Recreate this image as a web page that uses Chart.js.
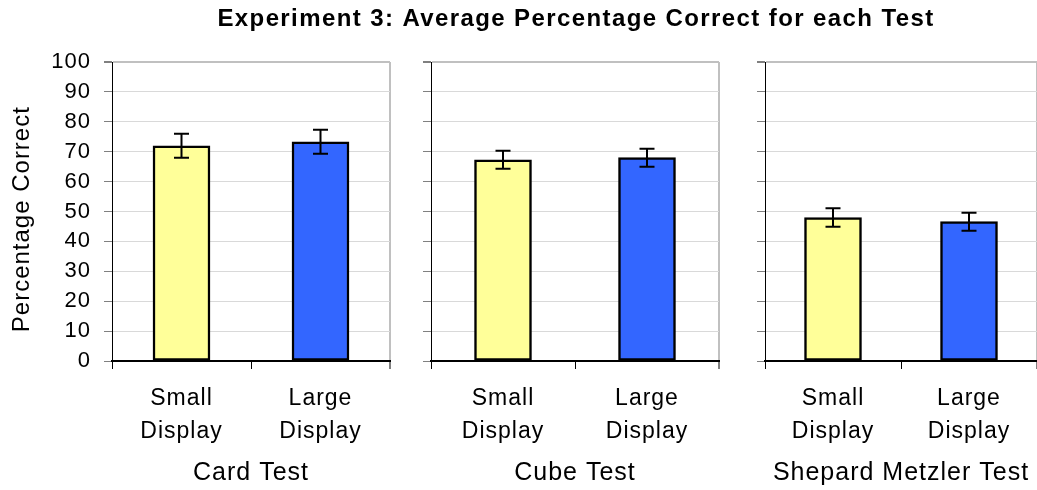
<!DOCTYPE html>
<html>
<head>
<meta charset="utf-8">
<script src="https://cdn.jsdelivr.net/npm/chart.js@4.4.1/dist/chart.umd.min.js"></script>
<style>
  html, body { margin: 0; padding: 0; background: #ffffff; }
  #wrap { position: relative; width: 1037px; height: 490px; overflow: hidden; }
  #wrap canvas { position: absolute; left: 0; top: 0; }
</style>
</head>
<body>
<div id="wrap">
  <canvas id="c0" width="1037" height="490"></canvas>
  <canvas id="c1" width="1037" height="490"></canvas>
  <canvas id="c2" width="1037" height="490"></canvas>
</div>
<script>
// ---- data ----
const chartTitle = 'Experiment 3: Average Percentage Correct for each Test';
const yAxisTitle = 'Percentage Correct';
const tests = ['Card Test', 'Cube Test', 'Shepard Metzler Test'];
const displays = [['Small', 'Display'], ['Large', 'Display']];
const smallMeans = [72, 67.3, 48];
const largeMeans = [73.3, 68, 46.6];
const smallErrors = [4, 3, 3.1];
const largeErrors = [4, 3, 3];
const yTicks = [0, 10, 20, 30, 40, 50, 60, 70, 80, 90, 100];

// ---- style ----
const FONT = "'Liberation Sans', Arial, sans-serif";
const barColors = ['#FFFF99', '#3366FF'];
const panels = [
  { left: 112, right: 390 },
  { left: 431, right: 719 },
  { left: 765, right: 1045 }
];
const TOP = 62, BOTTOM = 361, W = 1037, H = 490;

const spacingPlugin = {
  id: 'letterSpacing',
  beforeUpdate(chart) { chart.ctx.letterSpacing = '1px'; },
  beforeDraw(chart) { chart.ctx.letterSpacing = '1px'; }
};

const errorBarPlugin = {
  id: 'errorBars',
  afterDatasetsDraw(chart) {
    const ctx = chart.ctx;
    const y = chart.scales.y;
    chart.data.datasets.forEach((ds, di) => {
      const meta = chart.getDatasetMeta(di);
      meta.data.forEach((bar, i) => {
        const v = ds.data[i], e = ds.errors[i];
        const yTop = y.getPixelForValue(v + e);
        const yBot = y.getPixelForValue(v - e);
        ctx.save();
        ctx.strokeStyle = '#000';
        ctx.lineWidth = 2;
        ctx.beginPath();
        ctx.moveTo(bar.x, yTop); ctx.lineTo(bar.x, yBot);
        ctx.moveTo(bar.x - 7.5, yTop); ctx.lineTo(bar.x + 7.5, yTop);
        ctx.moveTo(bar.x - 7.5, yBot); ctx.lineTo(bar.x + 7.5, yBot);
        ctx.stroke();
        ctx.restore();
      });
    });
  }
};

const titlePlugin = {
  id: 'figTitle',
  afterDraw(chart, args, opts) {
    if (!opts.text) return;
    const ctx = chart.ctx;
    ctx.save();
    ctx.font = 'bold 24px ' + FONT;
    ctx.letterSpacing = '1.4px';
    ctx.fillStyle = '#000';
    ctx.textAlign = 'center';
    ctx.textBaseline = 'middle';
    ctx.fillText(opts.text, 576, 19);
    ctx.restore();
  }
};

function makePanel(idx) {
  const p = panels[idx];
  const yAxisWidth = idx === 0 ? p.left : 20;
  const padLeft = p.left - yAxisWidth;
  const padRight = W - p.right;
  new Chart(document.getElementById('c' + idx), {
    type: 'bar',
    data: {
      labels: displays,
      datasets: [{
        data: [smallMeans[idx], largeMeans[idx]],
        errors: [smallErrors[idx], largeErrors[idx]],
        backgroundColor: barColors,
        borderColor: '#000',
        borderWidth: 2.5,
        borderSkipped: false,
        barThickness: 57
      }]
    },
    plugins: [spacingPlugin, errorBarPlugin, titlePlugin],
    options: {
      responsive: false,
      animation: false,
      events: [],
      layout: { padding: { left: padLeft, right: padRight, top: TOP, bottom: 0 } },
      plugins: {
        legend: { display: false },
        tooltip: { enabled: false },
        figTitle: { text: idx === 0 ? chartTitle : '' }
      },
      scales: {
        x: {
          type: 'category',
          afterFit(s) { s.height = H - BOTTOM; },
          grid: {
            offset: true,
            drawOnChartArea: true,
            drawTicks: true,
            tickLength: 8,
            tickColor: '#000',
            tickWidth: 1,
            color: c => (c.index === undefined ? '#c0c0c0' : 'rgba(0,0,0,0)'),
            lineWidth: c => (c.index === undefined ? 2 : 1)
          },
          border: { display: true, color: '#000', width: 2 },
          ticks: {
            color: '#000',
            font: { family: FONT, size: 23, lineHeight: 1.43 },
            padding: 13,
            maxRotation: 0,
            minRotation: 0,
            autoSkip: false
          },
          title: {
            display: true,
            text: tests[idx],
            color: '#000',
            font: { family: FONT, size: 25, lineHeight: 1.2 },
            padding: { top: 4, bottom: 2 }
          }
        },
        y: {
          type: 'linear',
          min: 0,
          max: 100,
          afterFit(s) { s.width = yAxisWidth; },
          afterBuildTicks(s) { s.ticks = yTicks.map(v => ({ value: v })); },
          grid: {
            drawTicks: true,
            tickLength: 8,
            tickColor: '#808080',
            color: c => (c.tick && c.tick.value === 100 ? '#c0c0c0' : '#d9d9d9'),
            lineWidth: c => (c.tick && c.tick.value === 100 ? 2 : 1)
          },
          border: { display: true, color: '#000', width: 1 },
          ticks: {
            color: '#000',
            font: { family: FONT, size: 22 },
            padding: 13,
            callback: v => (idx === 0 ? String(v) : '')
          },
          title: {
            display: idx === 0,
            text: yAxisTitle + '  ',
            color: '#000',
            font: { family: FONT, size: 24, lineHeight: 1.2 },
            padding: { top: 8, bottom: 0 }
          }
        }
      }
    }
  });
}

[0, 1, 2].forEach(makePanel);
</script>
</body>
</html>
